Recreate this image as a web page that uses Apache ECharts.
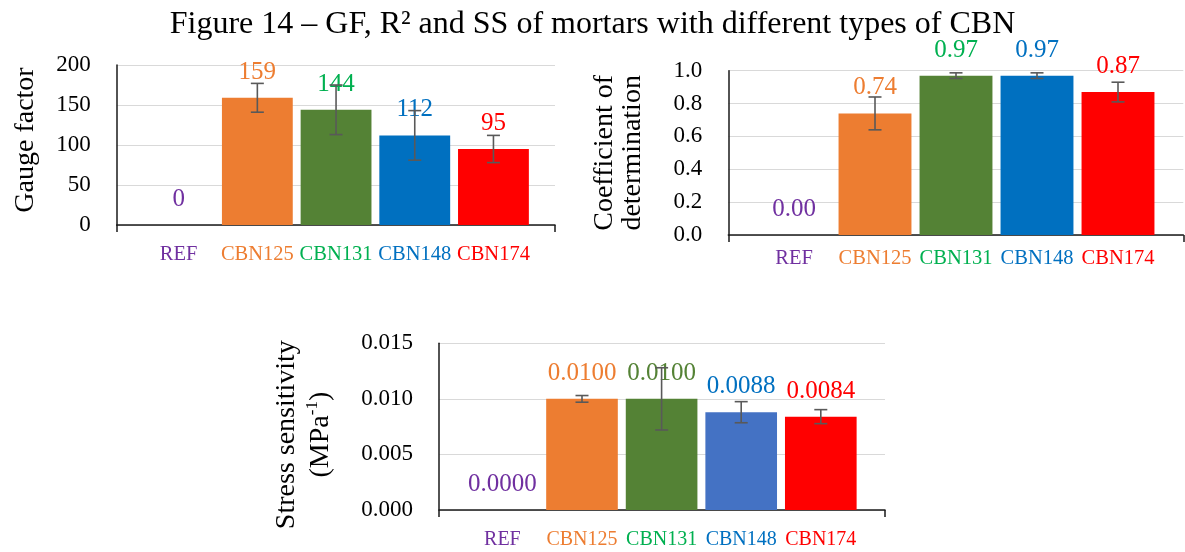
<!DOCTYPE html>
<html>
<head>
<meta charset="utf-8">
<script src="https://cdn.jsdelivr.net/npm/echarts@6/dist/echarts.min.js"></script>
<style>
  html, body { margin: 0; padding: 0; background: #fff; }
  #chart { width: 1185px; height: 552px; }
</style>
</head>
<body>
<div id="chart"></div>
<script>
// Mortar types on the category axis
const categories = ['REF', 'CBN125', 'CBN131', 'CBN148', 'CBN174'];

// Gauge factor (GF) and its standard deviation
const gaugeFactor = [0, 159, 144, 112, 95];
const gaugeFactorErr = [0, 18, 31, 31, 17];

// Coefficient of determination (R²) and its standard deviation
const r2 = [0.00, 0.74, 0.97, 0.97, 0.87];
const r2Err = [0, 0.10, 0.017, 0.017, 0.06];

// Stress sensitivity (SS, MPa^-1) and its standard deviation
const stress = [0.0000, 0.0100, 0.0100, 0.0088, 0.0084];
const stressErr = [0, 0.0003, 0.0028, 0.00095, 0.00063];

// Tick values of each value axis
const gfTicks = [0, 50, 100, 150, 200];
const r2Ticks = [0.0, 0.2, 0.4, 0.6, 0.8, 1.0];
const ssTicks = [0.000, 0.005, 0.010, 0.015];

const FONT = 'Liberation Serif';
const catColors = ['#7030A0', '#ED7D31', '#00B050', '#0070C0', '#FF0000'];
const barColorsTop = ['#7030A0', '#ED7D31', '#548235', '#0070C0', '#FF0000'];
const barColorsBottom = ['#7030A0', '#ED7D31', '#548235', '#4472C4', '#FF0000'];
const valColorsTop = ['#7030A0', '#ED7D31', '#00B050', '#0070C0', '#FF0000'];
const valColorsBottom = ['#7030A0', '#ED7D31', '#548235', '#0070C0', '#FF0000'];

// Panel layout: outer frame (axes + gridlines) and inner plot band for the bars
const panels = [
  { frame: { left: 116.7, top: 65, width: 438.3, height: 160 },
    inner: { left: 139.3, width: 393.5 }, catMargin: 19, catSize: 20.5 },
  { frame: { left: 728.3, top: 70.7, width: 455, height: 164.3 },
    inner: { left: 753.5, width: 405 }, catMargin: 13, catSize: 20.5 },
  { frame: { left: 439, top: 343.3, width: 446, height: 166.7 },
    inner: { left: 462.6, width: 398 }, catMargin: 20, catSize: 20 }
];

const grids = [];
panels.forEach(p => {
  grids.push({ left: p.frame.left, top: p.frame.top, width: p.frame.width, height: p.frame.height });
  grids.push({ left: p.inner.left, top: p.frame.top, width: p.inner.width, height: p.frame.height });
});

function frameXAxis(gridIndex) {
  return {
    gridIndex, type: 'value', min: 0, max: 1, interval: 1,
    axisLine: { show: true, lineStyle: { color: '#1a1a1a', width: 1.5 } },
    axisTick: { show: true, length: 7, lineStyle: { color: '#1a1a1a', width: 1.5 } },
    axisLabel: { show: false }, splitLine: { show: false }
  };
}
function innerXAxis(gridIndex, p) {
  return {
    gridIndex, type: 'category', data: categories,
    axisLine: { show: false }, axisTick: { show: false },
    axisLabel: {
      interval: 0, hideOverlap: false,
      margin: p.catMargin, fontFamily: FONT, fontSize: p.catSize,
      color: (v, i) => catColors[categories.indexOf(v)]
    }
  };
}
function frameYAxis(gridIndex, ticks, fmt, name, nameGap, nameStyle) {
  return {
    gridIndex, type: 'value', min: ticks[0], max: ticks[ticks.length - 1],
    interval: ticks[1] - ticks[0],
    axisLine: { show: true, lineStyle: { color: '#1a1a1a', width: 1.5 } },
    axisTick: { show: false },
    axisLabel: { margin: 26, fontFamily: FONT, fontSize: 23, color: '#000', formatter: fmt },
    splitLine: { show: true, lineStyle: { color: '#D9D9D9', width: 1.2 } },
    name, nameLocation: 'middle', nameRotate: 90, nameGap,
    nameTextStyle: Object.assign({ fontFamily: FONT, fontSize: 28, color: '#000', lineHeight: 28 }, nameStyle || {})
  };
}
function innerYAxis(gridIndex, ticks) {
  return {
    gridIndex, type: 'value', min: ticks[0], max: ticks[ticks.length - 1],
    interval: ticks[1] - ticks[0], show: false, splitLine: { show: false }
  };
}

function barSeries(axisIndex, values, barColors, valColors, digits) {
  return {
    type: 'bar', xAxisIndex: axisIndex, yAxisIndex: axisIndex,
    barCategoryGap: '10%', z: 2,
    label: {
      show: true, position: 'top', distance: 13, fontFamily: FONT, fontSize: 25,
      formatter: p => Number(p.value).toFixed(digits)
    },
    data: values.map((v, i) => ({
      value: v,
      itemStyle: { color: barColors[i] },
      label: { color: valColors[i] }
    }))
  };
}

function renderErrorBar(params, api) {
  const i = api.value(0), v = api.value(1), e = api.value(2);
  if (!e) return null;
  const hi = api.coord([i, v + e]);
  const lo = api.coord([i, v - e]);
  const w = 6.5;
  const style = { stroke: '#595959', lineWidth: 1.6 };
  return {
    type: 'group',
    children: [
      { type: 'line', shape: { x1: hi[0], y1: hi[1], x2: lo[0], y2: lo[1] }, style },
      { type: 'line', shape: { x1: hi[0] - w, y1: hi[1], x2: hi[0] + w, y2: hi[1] }, style },
      { type: 'line', shape: { x1: lo[0] - w, y1: lo[1], x2: lo[0] + w, y2: lo[1] }, style }
    ]
  };
}
function errorSeries(axisIndex, values, errs) {
  return {
    type: 'custom', xAxisIndex: axisIndex, yAxisIndex: axisIndex, z: 5,
    renderItem: renderErrorBar, encode: { x: 0, y: 1 },
    data: values.map((v, i) => [i, v, errs[i]])
  };
}

const option = {
  animation: false,
  backgroundColor: '#fff',
  title: {
    text: 'Figure 14 – GF, R² and SS of mortars with different types of CBN',
    left: 'center', top: 4,
    textStyle: { fontFamily: FONT, fontSize: 32, fontWeight: 'normal', color: '#000' }
  },
  grid: grids,
  xAxis: [
    frameXAxis(0), innerXAxis(1, panels[0]),
    frameXAxis(2), innerXAxis(3, panels[1]),
    frameXAxis(4), innerXAxis(5, panels[2])
  ],
  yAxis: [
    frameYAxis(0, gfTicks, v => String(Math.round(v)), 'Gauge factor', 77,
      { padding: [0, 0, 0, 10] }),
    innerYAxis(1, gfTicks),
    frameYAxis(2, r2Ticks, v => v.toFixed(1), 'Coefficient of\ndetermination', 82),
    innerYAxis(3, r2Ticks),
    frameYAxis(4, ssTicks, v => v.toFixed(3),
      '{a|Stress sensitivity}\n{a|(MPa}{s|-1}{a|)}', 101,
      {
        padding: [0, 16, 0, 0],
        rich: {
          a: { fontFamily: FONT, fontSize: 28, lineHeight: 34, color: '#000' },
          s: { fontFamily: FONT, fontSize: 17, lineHeight: 16, verticalAlign: 'top', color: '#000' }
        }
      }),
    innerYAxis(5, ssTicks)
  ],
  series: [
    barSeries(1, gaugeFactor, barColorsTop, valColorsTop, 0),
    errorSeries(1, gaugeFactor, gaugeFactorErr),
    barSeries(3, r2, barColorsTop, valColorsTop, 2),
    errorSeries(3, r2, r2Err),
    barSeries(5, stress, barColorsBottom, valColorsBottom, 4),
    errorSeries(5, stress, stressErr)
  ]
};

const chart = echarts.init(document.getElementById('chart'), null, { renderer: 'canvas' });
chart.setOption(option);
</script>
</body>
</html>
